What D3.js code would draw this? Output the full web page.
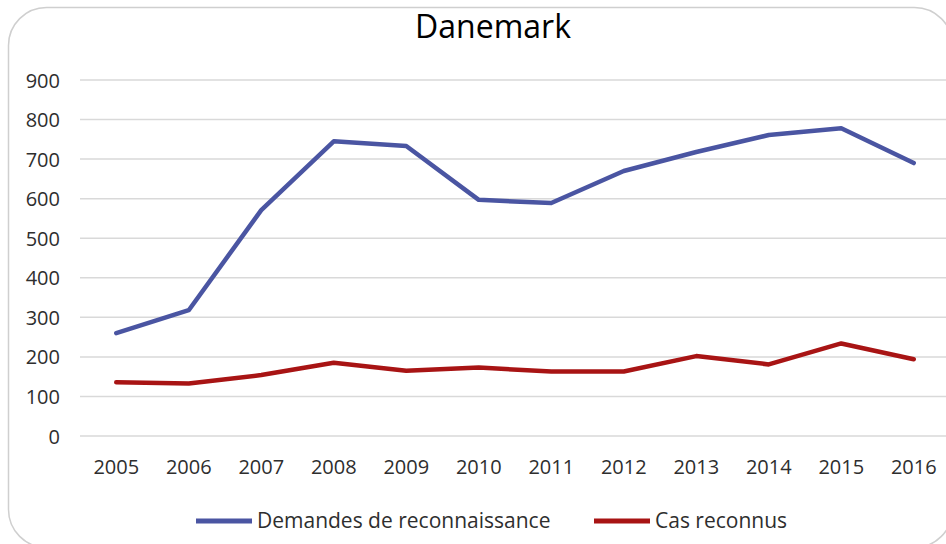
<html>
<head>
    <title>Danemark</title>
    <style>
        body { margin: 0; background-color: #fff; }
        svg { display: block; font-family: "Open Sans", sans-serif; }
        .grid line { stroke: #d9d9d9; stroke-width: 1.5px; }
        .axis text { fill: #2e2e2e; font-family: "Open Sans", sans-serif; font-size: 20px; }
        .line { fill: none; stroke-width: 4.5px; stroke-linejoin: round; stroke-linecap: round; }
    </style>
</head>
<body>
    <div id="container"></div>
    <script src="https://d3js.org/d3.v7.min.js"></script>
    <script>
        // data
        let years = ['2005', '2006', '2007', '2008', '2009', '2010', '2011', '2012', '2013', '2014', '2015', '2016'];
        let demandes = [260, 318, 571, 745, 733, 597, 589, 670, 718, 761, 778, 690];
        let reconnus = [136, 133, 154, 185, 165, 173, 163, 163, 202, 181, 234, 194];
        let yTicks = [0, 100, 200, 300, 400, 500, 600, 700, 800, 900];
        let seriesNames = ['Demandes de reconnaissance', 'Cas reconnus'];
        let seriesColors = ['#4a55a2', '#a81414'];

        let width = 946,
            height = 544,
            margin = { left: 80, right: -4, top: 80, bottom: 108 };

        let svg = d3.select('#container')
            .append('svg')
            .attr('width', width)
            .attr('height', height);

        // rounded frame
        svg.append('rect')
            .attr('x', 8.5)
            .attr('y', 7.5)
            .attr('width', 944)
            .attr('height', 540)
            .attr('rx', 38)
            .attr('fill', '#fff')
            .attr('stroke', '#cfcfcf')
            .attr('stroke-width', 1.5);

        svg.append('text')
            .attr('x', 493)
            .attr('y', 38)
            .attr('text-anchor', 'middle')
            .attr('fill', '#000')
            .style('font-size', '32px')
            .text('Danemark');

        let x = d3.scaleBand()
            .domain(years)
            .range([margin.left, width - margin.right]);
        let y = d3.scaleLinear()
            .domain([0, 900])
            .range([height - margin.bottom, margin.top]);

        // gridlines
        svg.append('g')
            .attr('class', 'grid')
            .selectAll('line')
            .data(yTicks)
            .enter().append('line')
            .attr('x1', margin.left)
            .attr('x2', width - margin.right)
            .attr('y1', function (d) { return y(d); })
            .attr('y2', function (d) { return y(d); });

        let yAxis = svg.append('g')
            .attr('class', 'axis')
            .attr('transform', 'translate(' + (margin.left - 20) + ',0)')
            .call(d3.axisLeft(y).tickValues(yTicks).tickSize(0).tickPadding(0));
        yAxis.select('.domain').remove();
        yAxis.selectAll('text').attr('dy', '0.35em');

        let xAxis = svg.append('g')
            .attr('class', 'axis')
            .attr('transform', 'translate(0,' + (height - margin.bottom) + ')')
            .call(d3.axisBottom(x).tickSize(0).tickPadding(24));
        xAxis.select('.domain').remove();

        let line = d3.line()
            .x(function (d, i) { return x(years[i]) + x.bandwidth() / 2; })
            .y(function (d) { return y(d); });

        [demandes, reconnus].forEach(function (s, i) {
            svg.append('path')
                .datum(s)
                .attr('class', 'line')
                .attr('stroke', seriesColors[i])
                .attr('d', line);
        });

        // legend
        let legendX = [196, 594];
        let legend = svg.append('g').attr('class', 'legend');
        seriesNames.forEach(function (name, i) {
            legend.append('line')
                .attr('x1', legendX[i])
                .attr('x2', legendX[i] + 56)
                .attr('y1', 521)
                .attr('y2', 521)
                .attr('stroke', seriesColors[i])
                .attr('stroke-width', 5);
            legend.append('text')
                .attr('x', legendX[i] + 61)
                .attr('y', 521)
                .attr('dy', '0.35em')
                .attr('fill', '#2e2e2e')
                .style('font-size', '21px')
                .text(name);
        });
    </script>
</body>
</html>
